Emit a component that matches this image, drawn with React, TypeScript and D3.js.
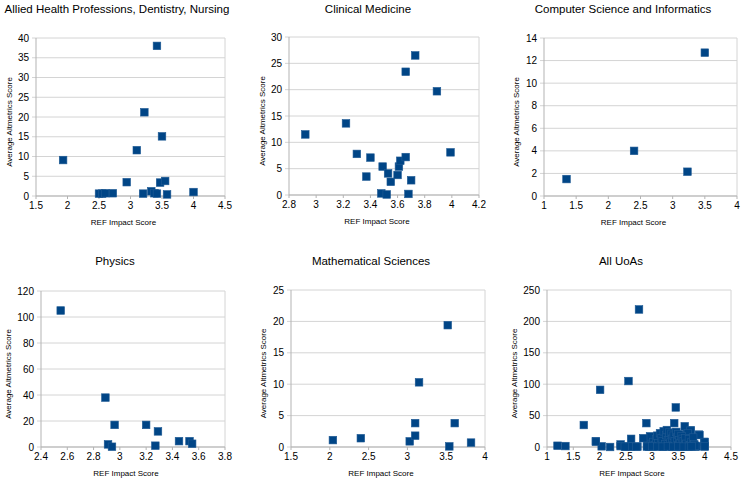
import React from "react";
import * as d3 from "d3";

// values, [REF impact score, average altmetrics score]
const alliedHealth: [number, number][] = [
  [1.93, 9.1], [2.5, 0.6], [2.55, 0.6], [2.6, 0.7], [2.72, 0.7], [2.94, 3.5],
  [3.1, 11.6], [3.2, 0.6], [3.22, 21.2], [3.33, 1.2], [3.38, 0.7], [3.42, 0.6],
  [3.42, 38], [3.47, 3.4], [3.5, 15.1], [3.55, 3.8], [3.58, 0.4], [4.0, 1.0],
];

const clinicalMedicine: [number, number][] = [
  [2.92, 11.5], [3.22, 13.6], [3.3, 7.8], [3.4, 7.1], [3.37, 3.5], [3.48, 0.3],
  [3.49, 5.4], [3.53, 4.1], [3.52, 0.1], [3.55, 2.5], [3.6, 3.8], [3.61, 5.4],
  [3.62, 6.5], [3.66, 7.2], [3.66, 23.4], [3.68, 0.2], [3.7, 2.8], [3.73, 26.5],
  [3.89, 19.7], [3.99, 8.1],
];

const computerScience: [number, number][] = [
  [1.35, 1.5], [2.4, 4.0], [3.23, 2.15], [3.5, 12.7],
];

const physics: [number, number][] = [
  [2.55, 105], [2.89, 38], [2.96, 17], [2.91, 2], [2.94, 0.2], [3.2, 17],
  [3.29, 12], [3.27, 1], [3.45, 4.5], [3.53, 4.5], [3.55, 2.5],
];

const mathematicalSciences: [number, number][] = [
  [2.04, 1.1], [2.4, 1.4], [3.03, 0.9], [3.1, 1.8], [3.1, 3.8], [3.15, 10.3],
  [3.52, 19.4], [3.54, 0.1], [3.61, 3.8], [3.82, 0.7],
];

// remaining units of assessment that only show up in the "All UoAs" panel
const otherUoAs: [number, number][] = [
  [1.2, 2], [1.7, 35], [1.93, 8.5], [2.01, 91], [2.2, 0], [2.48, 0.5],
  [2.6, 13], [2.7, 0.5], [2.75, 219], [2.83, 14], [2.9, 0.5], [3.45, 63],
  [3.62, 33], [3.73, 26], [3.68, 22], [3.9, 19], [4.0, 8], [4.0, 1], [3.85, 1],
  [3.02, 8], [3.05, 3], [3.08, 12], [3.1, 18], [3.12, 6], [3.15, 22], [3.18, 14],
  [3.2, 9], [3.22, 25], [3.25, 4], [3.27, 19], [3.28, 27], [3.3, 11], [3.32, 16],
  [3.33, 23], [3.35, 7], [3.37, 21], [3.38, 13], [3.4, 2], [3.41, 18], [3.43, 9],
  [3.46, 24], [3.48, 15], [3.5, 20], [3.52, 11], [3.54, 6], [3.56, 17], [3.58, 13],
  [3.6, 9], [3.63, 14], [3.65, 5], [3.7, 12], [3.72, 3], [3.75, 8], [3.78, 15],
  [3.8, 4], [3.82, 2], [3.0, 1], [3.1, 0.5], [3.2, 0.5], [3.3, 1], [3.4, 0.5],
  [3.5, 1], [3.6, 0.5], [3.7, 0.5], [3.75, 1],
];

const allUoAs = [
  ...alliedHealth, ...clinicalMedicine, ...computerScience,
  ...physics, ...mathematicalSciences, ...otherUoAs,
];

const titles = [
  "Allied Health Professions, Dentistry, Nursing",
  "Clinical Medicine",
  "Computer Science and Informatics",
  "Physics",
  "Mathematical Sciences",
  "All UoAs",
];
const datasets = [alliedHealth, clinicalMedicine, computerScience, physics, mathematicalSciences, allUoAs];

const xTicks = [
  [1.5, 2, 2.5, 3, 3.5, 4, 4.5],
  [2.8, 3, 3.2, 3.4, 3.6, 3.8, 4, 4.2],
  [1, 1.5, 2, 2.5, 3, 3.5, 4],
  [2.4, 2.6, 2.8, 3, 3.2, 3.4, 3.6, 3.8],
  [1.5, 2, 2.5, 3, 3.5, 4],
  [1, 1.5, 2, 2.5, 3, 3.5, 4, 4.5],
];
const yTicks = [
  [0, 5, 10, 15, 20, 25, 30, 35, 40],
  [0, 5, 10, 15, 20, 25, 30],
  [0, 2, 4, 6, 8, 10, 12, 14],
  [0, 20, 40, 60, 80, 100, 120],
  [0, 5, 10, 15, 20, 25],
  [0, 50, 100, 150, 200, 250],
];

const xLabel = "REF Impact Score";
const yLabel = "Average Altmetrics Score";

// plot boxes in page pixels
const layout = [
  { left: 36, right: 225, top: 38, bottom: 196, titleX: 117, titleY: 12.5, yTitleX: 12 },
  { left: 289, right: 479, top: 37, bottom: 195, titleX: 368, titleY: 12.5, yTitleX: 265 },
  { left: 544, right: 737, top: 38, bottom: 196, titleX: 623, titleY: 12.5, yTitleX: 519 },
  { left: 41, right: 225, top: 291, bottom: 447, titleX: 115, titleY: 265, yTitleX: 11 },
  { left: 291, right: 485, top: 290, bottom: 447, titleX: 371, titleY: 265, yTitleX: 266 },
  { left: 547, right: 731, top: 290, bottom: 447, titleX: 621, titleY: 265, yTitleX: 517 },
];

const FONT = "'Liberation Sans', Arial, sans-serif";
const BLUE = "#004586";
const fmt = (v: number) => String(Math.round(v * 10) / 10);

function Panel({ i }: { i: number }) {
  const box = layout[i];
  const xt = xTicks[i];
  const yt = yTicks[i];
  const x = d3.scaleLinear().domain([xt[0], xt[xt.length - 1]]).range([box.left, box.right]);
  const y = d3.scaleLinear().domain([yt[0], yt[yt.length - 1]]).range([box.bottom, box.top]);
  const sq = 7.6;

  return (
    <g>
      <text x={box.titleX} y={box.titleY} textAnchor="middle" fontSize={11.5} fill="#000">
        {titles[i]}
      </text>

      {/* horizontal grid */}
      {yt.map((t) => (
        <line key={"g" + t} x1={box.left - 4} x2={box.right} y1={y(t)} y2={y(t)} stroke="#d4d4d4" />
      ))}
      {/* frame sides */}
      <line x1={box.left} x2={box.left} y1={box.top} y2={box.bottom} stroke="#b3b3b3" />
      <line x1={box.right} x2={box.right} y1={box.top} y2={box.bottom} stroke="#d4d4d4" />
      <line x1={box.left} x2={box.right} y1={box.bottom} y2={box.bottom} stroke="#b3b3b3" />

      {xt.map((t) => (
        <g key={"x" + t}>
          <line x1={x(t)} x2={x(t)} y1={box.bottom} y2={box.bottom + 3} stroke="#b3b3b3" />
          <text x={x(t)} y={box.bottom + 13} textAnchor="middle" fontSize={10} fill="#000">
            {fmt(t)}
          </text>
        </g>
      ))}
      {yt.map((t) => (
        <text key={"y" + t} x={box.left - 7} y={y(t) + 3.5} textAnchor="end" fontSize={10} fill="#000">
          {fmt(t)}
        </text>
      ))}

      <text
        x={(box.left + box.right) / 2 - 7}
        y={box.bottom + 29}
        textAnchor="middle"
        fontSize={8}
        fill="#000"
      >
        {xLabel}
      </text>
      <text
        transform={`translate(${box.yTitleX},${(box.top + box.bottom) / 2 + 5}) rotate(-90)`}
        textAnchor="middle"
        fontSize={8}
        fill="#000"
      >
        {yLabel}
      </text>

      {datasets[i].map((d, k) => (
        <rect
          key={k}
          x={x(d[0]) - sq / 2}
          y={y(d[1]) - sq / 2}
          width={sq}
          height={sq}
          fill={BLUE}
          stroke="#1f5a94"
          strokeWidth={0.6}
        />
      ))}
    </g>
  );
}

export default function App() {
  return (
    <svg
      width={742}
      height={483}
      style={{ position: "absolute", left: 0, top: 0, background: "#fff" }}
      fontFamily={FONT}
    >
      <rect width={742} height={483} fill="#fff" />
      {titles.map((_, i) => (
        <Panel key={i} i={i} />
      ))}
    </svg>
  );
}
